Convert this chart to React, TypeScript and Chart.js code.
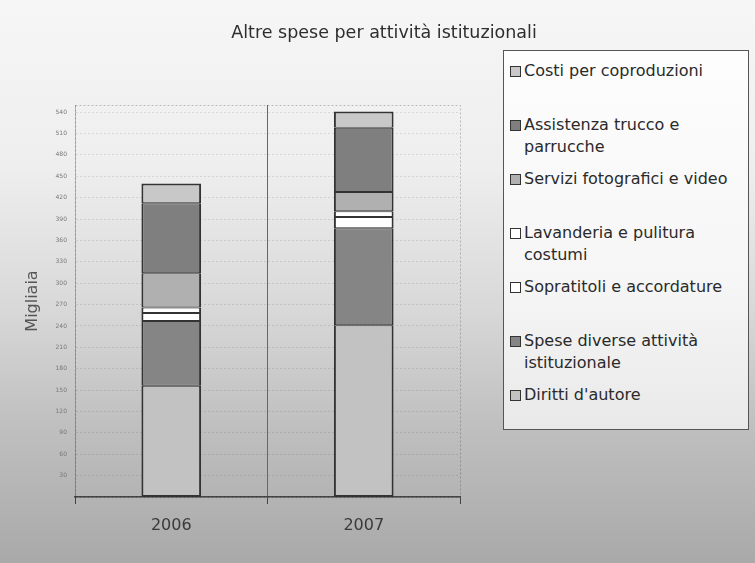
import React, { useEffect, useRef } from "react";
import { Chart, registerables } from "chart.js";

Chart.register(...registerables);

// ---- data (Migliaia) ----
const categories = ["2006", "2007"];
const dirittiAutore = [156, 241];
const speseDiverse = [91, 136];
const sopratitoli = [11, 16];
const lavanderia = [8, 8];
const serviziFoto = [48, 27];
const assistenzaTrucco = [98, 90];
const costiCoproduzioni = [28, 23];
const yTickValues = [30, 60, 90, 120, 150, 180, 210, 240, 270, 300, 330, 360, 390, 420, 450, 480, 510, 540];

const chartTitle = "Altre spese per attività istituzionali";
const yTitle = "Migliaia";

// stacking order: bottom to top
const seriesNames = [
  "Diritti d'autore",
  "Spese diverse attività istituzionale",
  "Sopratitoli e accordature",
  "Lavanderia e pulitura costumi",
  "Servizi fotografici e video",
  "Assistenza trucco e parrucche",
  "Costi per coproduzioni",
];
const seriesLegendLines = [
  ["Diritti d'autore"],
  ["Spese diverse attività", "istituzionale"],
  ["Sopratitoli e accordature"],
  ["Lavanderia e pulitura", "costumi"],
  ["Servizi fotografici e video"],
  ["Assistenza trucco e", "parrucche"],
  ["Costi per coproduzioni"],
];
const seriesValues = [
  dirittiAutore,
  speseDiverse,
  sopratitoli,
  lavanderia,
  serviziFoto,
  assistenzaTrucco,
  costiCoproduzioni,
];
const seriesColors = ["#c2c2c2", "#858585", "#ffffff", "#ffffff", "#b0b0b0", "#7f7f7f", "#c8c8c8"];

const FONT = "'DejaVu Sans', 'Open Sans', sans-serif";

const framePlugin = {
  id: "frame",
  beforeDatasetsDraw(chart: any) {
    const { ctx, chartArea } = chart;
    ctx.save();
    ctx.strokeStyle = "rgba(0,0,0,0.22)";
    ctx.lineWidth = 1;
    ctx.setLineDash([2, 2]);
    ctx.strokeRect(chartArea.left + 0.5, chartArea.top + 0.5, chartArea.right - chartArea.left, chartArea.bottom - chartArea.top);
    ctx.restore();
  },
};

export default function App() {
  const canvasRef = useRef<HTMLCanvasElement | null>(null);

  useEffect(() => {
    if (!canvasRef.current) return;
    const last = seriesNames.length - 1;
    const chart = new Chart(canvasRef.current, {
      type: "bar",
      data: {
        labels: categories,
        datasets: seriesNames.map((name, i) => ({
          label: name,
          data: seriesValues[i],
          backgroundColor: seriesColors[i],
          borderColor: "#333333",
          borderWidth: { left: 2, right: 2, top: i === last ? 2 : 1, bottom: i === 0 ? 2 : 1 },
          borderSkipped: false,
          barPercentage: 0.31,
          categoryPercentage: 1.0,
        })),
      },
      options: {
        responsive: false,
        animation: false,
        layout: { padding: { top: 105, right: 295, bottom: 0, left: 0 } },
        plugins: {
          legend: { display: false },
          title: { display: false },
          tooltip: { enabled: false },
        },
        scales: {
          x: {
            stacked: true,
            afterFit: (scale: any) => {
              scale.height = 66;
            },
            grid: {
              offset: true,
              color: (ctx: any) => (ctx.index === 1 ? "#666666" : "rgba(0,0,0,0)"),
              tickColor: "#444444",
              tickLength: 7,
              lineWidth: 1,
            },
            border: { color: "#444444", width: 1.5 },
            ticks: {
              color: "#3a3a3a",
              padding: 12,
              font: { family: FONT, size: 16 },
            },
          },
          y: {
            stacked: true,
            min: 0,
            max: 550,
            afterFit: (scale: any) => {
              scale.width = 75;
            },
            afterBuildTicks: (scale: any) => {
              scale.ticks = yTickValues.map((v) => ({ value: v }));
            },
            grid: {
              color: "rgba(0,0,0,0.10)",
              drawTicks: false,
            },
            border: { color: "rgba(0,0,0,0.2)", dash: [2, 2] },
            ticks: {
              color: "#777777",
              padding: 8,
              font: { family: FONT, size: 6 },
            },
            title: {
              display: true,
              text: yTitle,
              color: "#555555",
              padding: { top: 23, bottom: 0 },
              font: { family: FONT, size: 16 },
            },
          },
        },
      },
      plugins: [framePlugin],
    } as any);
    return () => chart.destroy();
  }, []);

  const legendOrder = seriesNames.map((_, i) => i).reverse();

  return (
    <div
      style={{
        position: "fixed",
        left: 0,
        top: 0,
        width: 755,
        height: 563,
        overflow: "hidden",
        background:
          "linear-gradient(to bottom, #f6f6f6 0%, #eeeeee 30%, #d8d8d8 55%, #c0c0c0 75%, #a9a9a9 100%)",
        fontFamily: FONT,
      }}
    >
      <canvas ref={canvasRef} width={755} height={563} style={{ position: "absolute", left: 0, top: 0, width: 755, height: 563 }} />
      <div
        style={{
          position: "absolute",
          left: 384,
          top: 21,
          transform: "translateX(-50%)",
          whiteSpace: "nowrap",
          fontSize: 17.5,
          color: "#2e2e2e",
          lineHeight: "22px",
        }}
      >
        {chartTitle}
      </div>
      <div
        style={{
          position: "absolute",
          left: 503,
          top: 50,
          width: 244,
          height: 378,
          border: "1px solid #555555",
          background: "linear-gradient(to bottom, #fdfdfd 0%, #f6f6f6 60%, #e9e9e9 100%)",
        }}
      >
        {legendOrder.map((si) => (
          <div key={si} style={{ position: "relative", height: 54, boxSizing: "border-box", paddingTop: 9, paddingLeft: 20 }}>
            <div
              style={{
                position: "absolute",
                left: 6,
                top: 15,
                width: 9,
                height: 9,
                border: "1px solid #333333",
                background: seriesColors[si],
              }}
            />
            {seriesLegendLines[si].map((line, li) => (
              <div key={li} style={{ fontSize: 16, lineHeight: "22px", color: "#2a2a2a", whiteSpace: "nowrap" }}>
                {line}
              </div>
            ))}
          </div>
        ))}
      </div>
    </div>
  );
}
